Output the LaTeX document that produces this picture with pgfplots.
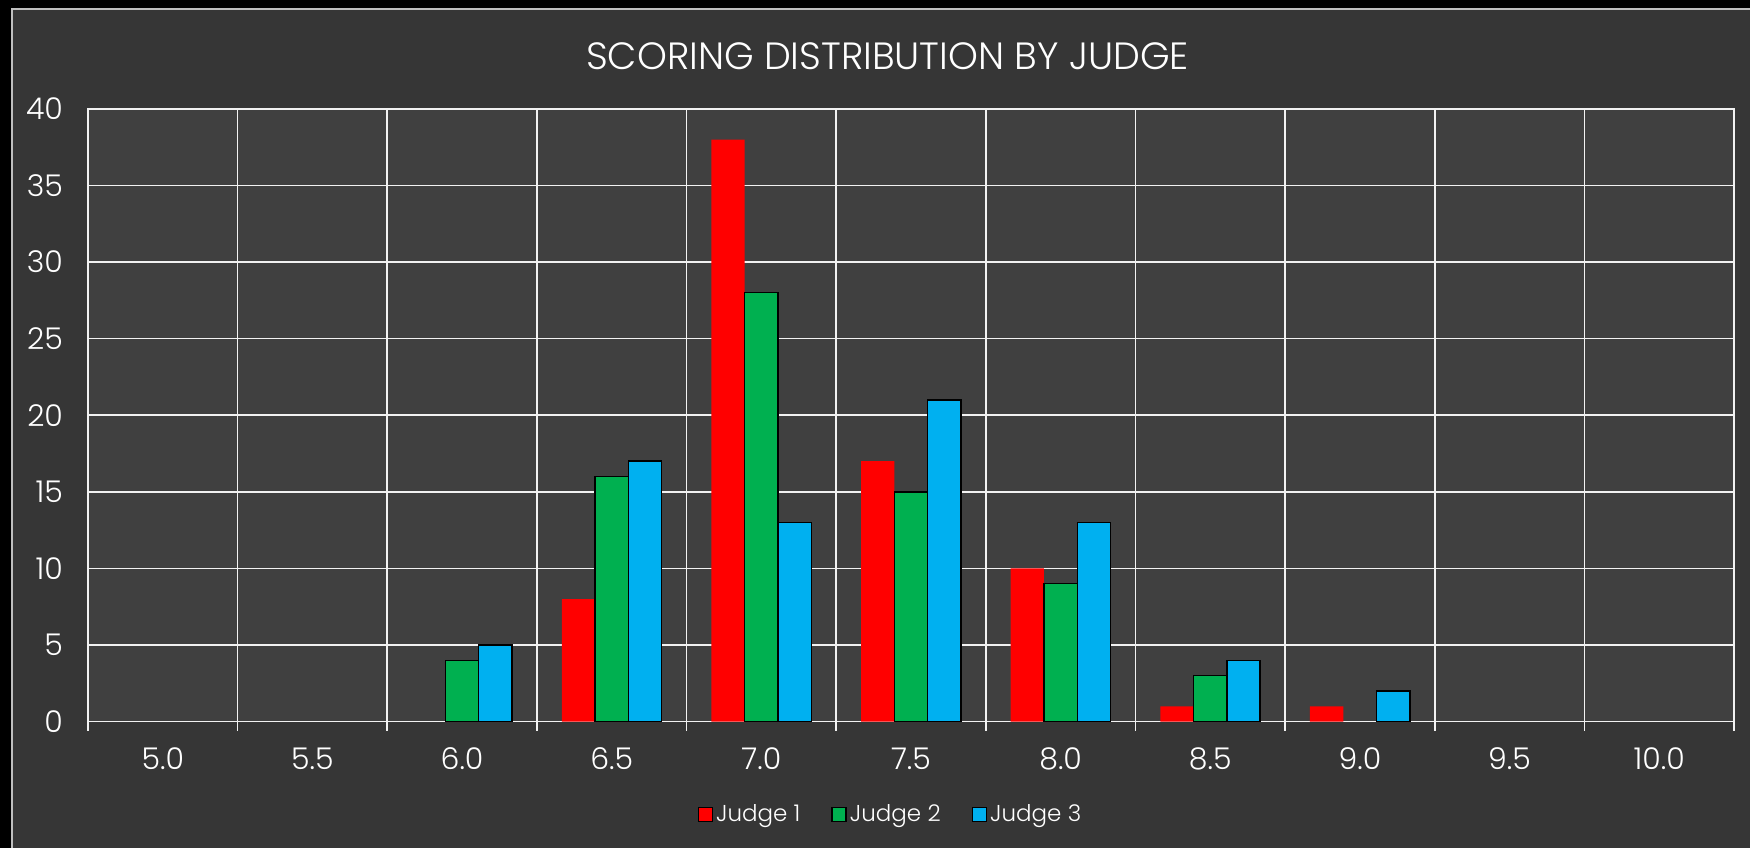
\documentclass[border=0pt]{standalone}
\usepackage{fontspec}
\IfFontExistsTF{Poppins Light}{\setmainfont{Poppins Light}}{\setmainfont{Poppins}}
\usepackage{pgfplots}
\pgfplotsset{compat=1.18}
\definecolor{chartbg}{HTML}{363636}
\definecolor{plotbg}{HTML}{404040}
\definecolor{jr}{HTML}{FF0000}
\definecolor{jg}{HTML}{00B050}
\definecolor{jb}{HTML}{00B0F0}
\definecolor{gridc}{HTML}{F2F2F2}
\definecolor{framec}{HTML}{BFBFBF}
\pgfplotsset{sqleg/.style={legend image code/.code={\draw[##1] (0pt,-3.5pt) rectangle (7pt,3.5pt);}}}
\begin{document}
\begin{tikzpicture}
\fill[black] (0pt,0pt) rectangle (875.5pt,424pt);
\fill[chartbg] (5.5pt,0pt) rectangle (875.5pt,420pt);
\draw[line width=1pt, color=framec] (6pt,0pt) -- (6pt,419.5pt) -- (875.5pt,419.5pt);
\node[font=\fontsize{19}{22}\selectfont, text=white, inner sep=0pt] at (444pt,396pt) {SCORING DISTRIBUTION BY JUDGE};
\begin{axis}[
  at={(44pt,63pt)}, anchor=south west,
  width=823.5pt, height=306.5pt, scale only axis,
  xmin=-0.5, xmax=10.5, ymin=0, ymax=40,
  axis background/.style={fill=plotbg},
  ybar=0pt, bar width=0.2225,
  xtick={0,...,10},
  xticklabels={\textnormal{5.0},\textnormal{5.5},\textnormal{6.0},\textnormal{6.5},\textnormal{7.0},\textnormal{7.5},\textnormal{8.0},\textnormal{8.5},\textnormal{9.0},\textnormal{9.5},\textnormal{10.0}},
  minor xtick={-0.5,0.5,...,10.5},
  xmajorgrids=false, xminorgrids=true, ymajorgrids=true,
  ytick={0,5,...,40},
  major tick length=0pt, minor tick length=4.5pt, tick align=outside,
  xtick pos=bottom, ytick pos=left,
  axis line style={gridc, line width=0.8pt},
  minor tick style={gridc, line width=0.8pt},
  major tick style={draw=none},
  major grid style={gridc, line width=0.8pt},
  minor grid style={gridc, line width=0.8pt},
  tick label style={font=\fontsize{15}{18}\selectfont, text=white},
  /pgf/number format/assume math mode=true,
  yticklabel style={xshift=-9pt},
  xticklabel style={anchor=center, yshift=-18.5pt},
  legend style={at={(0.488,-0.152)}, anchor=center, draw=none, fill=none,
    text=white, font=\fontsize{11.5}{14}\selectfont, legend columns=-1,
    /tikz/every even column/.append style={column sep=14pt},
    nodes={inner sep=1.5pt}},
]
\addplot[fill=jr, draw=none, bar shift=-0.2225, sqleg] coordinates {(3,8) (4,38) (5,17) (6,10) (7,1) (8,1)};
\addplot[fill=jg, draw=black, line width=0.75pt, bar shift=0, sqleg] coordinates {(2,4) (3,16) (4,28) (5,15) (6,9) (7,3)};
\addplot[fill=jb, draw=black, line width=0.75pt, bar shift=0.2225, sqleg] coordinates {(2,5) (3,17) (4,13) (5,21) (6,13) (7,4) (8,2)};
\legend{Judge 1, Judge 2, Judge 3}
\end{axis}
\end{tikzpicture}
\end{document}
